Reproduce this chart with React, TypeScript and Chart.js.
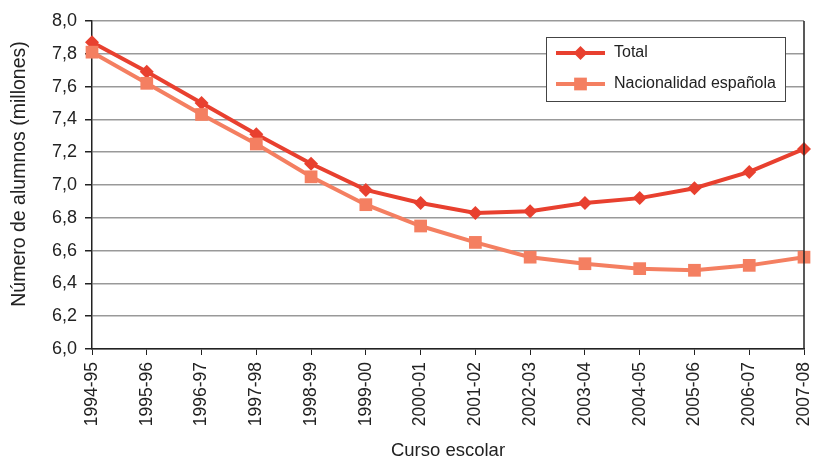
import React, { useEffect, useRef } from "react";
import { Chart, registerables } from "chart.js";

Chart.register(...registerables);

const categories = [
  "1994-95", "1995-96", "1996-97", "1997-98", "1998-99", "1999-00", "2000-01",
  "2001-02", "2002-03", "2003-04", "2004-05", "2005-06", "2006-07", "2007-08",
];
const totalValues = [7.87, 7.69, 7.5, 7.31, 7.13, 6.97, 6.89, 6.83, 6.84, 6.89, 6.92, 6.98, 7.08, 7.22];
const spanishValues = [7.81, 7.62, 7.43, 7.25, 7.05, 6.88, 6.75, 6.65, 6.56, 6.52, 6.49, 6.48, 6.51, 6.56];
const seriesNames = ["Total", "Nacionalidad española"];
const yTitle = "Número de alumnos (millones)";
const xTitle = "Curso escolar";

const RED = "#E8402F";
const SALMON = "#F47F61";
const TEXT = "#222";
const FONT = "'Liberation Sans', Arial, sans-serif";

const frameAndLegend = {
  id: "frameAndLegend",
  afterDraw(chart: any) {
    const ctx = chart.ctx;
    const a = chart.chartArea;
    ctx.save();
    // right border
    ctx.strokeStyle = TEXT;
    ctx.lineWidth = 1.5;
    ctx.beginPath();
    ctx.moveTo(a.right, a.top);
    ctx.lineTo(a.right, a.bottom);
    ctx.stroke();

    // y axis title
    ctx.save();
    ctx.translate(20, 174);
    ctx.rotate(-Math.PI / 2);
    ctx.fillStyle = TEXT;
    ctx.font = `19.5px ${FONT}`;
    ctx.textAlign = "center";
    ctx.textBaseline = "middle";
    ctx.fillText(yTitle, 0, 0);
    ctx.restore();

    // legend box
    const bx = 546, by = 37, bw = 239, bh = 64;
    ctx.fillStyle = "#fff";
    ctx.fillRect(bx, by, bw, bh);
    ctx.strokeStyle = "#444";
    ctx.lineWidth = 1;
    ctx.strokeRect(bx + 0.5, by + 0.5, bw, bh);
    const rows = [
      { y: 53, color: RED, style: "rectRot", r: 7 },
      { y: 84, color: SALMON, style: "rect", r: 9 },
    ];
    rows.forEach((row, i) => {
      ctx.strokeStyle = row.color;
      ctx.lineWidth = 4;
      ctx.beginPath();
      ctx.moveTo(556, row.y);
      ctx.lineTo(605, row.y);
      ctx.stroke();
      ctx.fillStyle = row.color;
      ctx.beginPath();
      if (row.style === "rectRot") {
        ctx.moveTo(580.5, row.y - row.r);
        ctx.lineTo(580.5 + row.r, row.y);
        ctx.lineTo(580.5, row.y + row.r);
        ctx.lineTo(580.5 - row.r, row.y);
        ctx.closePath();
      } else {
        const s = row.r * Math.SQRT1_2;
        ctx.rect(580.5 - s, row.y - s, 2 * s, 2 * s);
      }
      ctx.fill();
      ctx.fillStyle = TEXT;
      ctx.font = `16px ${FONT}`;
      ctx.textBaseline = "middle";
      ctx.textAlign = "left";
      ctx.fillText(seriesNames[i], 614, row.y);
    });
    ctx.restore();
  },
};

export default function App() {
  const ref = useRef<HTMLCanvasElement | null>(null);
  useEffect(() => {
    if (!ref.current) return;
    const chart = new Chart(ref.current, {
      type: "line",
      data: {
        labels: categories,
        datasets: [
          {
            label: seriesNames[1],
            data: spanishValues,
            borderColor: SALMON,
            backgroundColor: SALMON,
            borderWidth: 4,
            pointStyle: "rect",
            pointRadius: 9,
            pointBorderWidth: 0,
            tension: 0,
          },
          {
            label: seriesNames[0],
            data: totalValues,
            borderColor: RED,
            backgroundColor: RED,
            borderWidth: 4,
            pointStyle: "rectRot",
            pointRadius: 7,
            pointBorderWidth: 0,
            tension: 0,
          },
        ],
      },
      options: {
        animation: false,
        responsive: false,
        maintainAspectRatio: false,
        layout: { padding: { left: 0, right: 9, top: 21, bottom: 0 } },
        plugins: {
          legend: { display: false },
          tooltip: { enabled: false },
        },
        scales: {
          x: {
            offset: false,
            grid: { drawOnChartArea: false, drawTicks: true, tickLength: 6, color: TEXT },
            border: { color: TEXT, width: 1.5 },
            ticks: {
              minRotation: 90,
              maxRotation: 90,
              autoSkip: false,
              padding: 7,
              color: TEXT,
              font: { family: FONT, size: 17.5 },
            },
            title: {
              display: true,
              text: xTitle,
              color: TEXT,
              font: { family: FONT, size: 18.5 },
              padding: { top: 0, bottom: 0 },
            },
            afterFit: (s: any) => {
              s.height = 113;
              s.paddingLeft = 0;
              s.paddingRight = 0;
            },
          },
          y: {
            min: 6,
            max: 8,
            grid: { color: "#999", lineWidth: 1.5, tickLength: 7, tickColor: TEXT },
            border: { color: TEXT, width: 1.5 },
            ticks: {
              stepSize: 0.2,
              padding: 8,
              color: TEXT,
              font: { family: FONT, size: 18 },
              callback: (v: any) => Number(v).toFixed(1).replace(".", ","),
            },
            afterFit: (s: any) => {
              s.width = 92;
              s.paddingTop = 0;
              s.paddingBottom = 0;
            },
          },
        },
      },
      plugins: [frameAndLegend],
    });
    return () => chart.destroy();
  }, []);
  return (
    <div style={{ position: "fixed", left: 0, top: 0, width: 813, height: 462, background: "#fff" }}>
      <canvas ref={ref} width={813} height={462} style={{ width: 813, height: 462 }} />
    </div>
  );
}
